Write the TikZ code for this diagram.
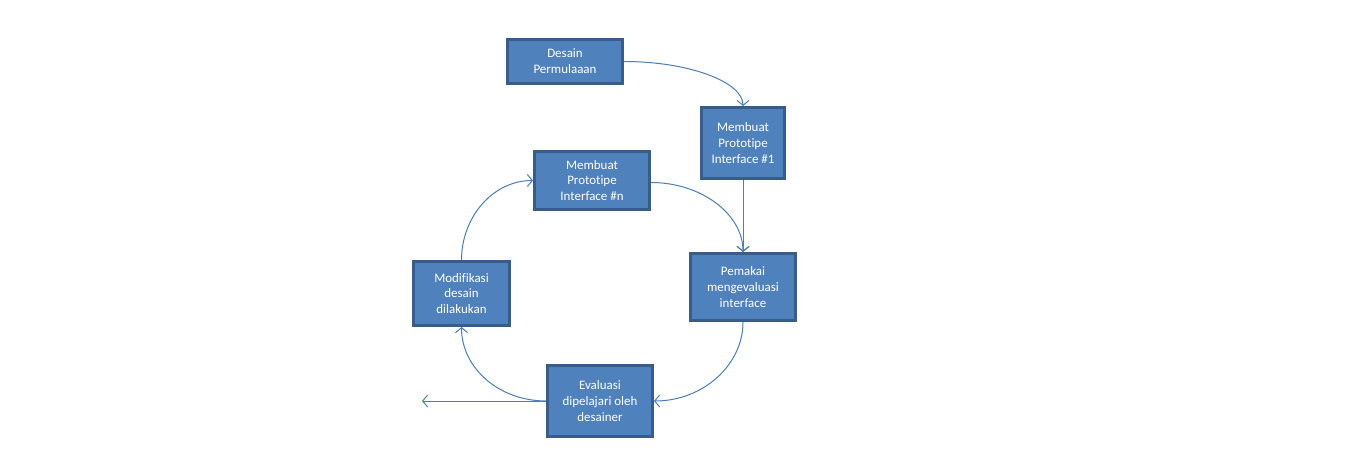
\documentclass[tikz,border=0pt]{standalone}
\usepackage{fontspec}
\setmainfont{Carlito}[Ligatures={NoCommon,NoRequired,NoContextual}]
\usetikzlibrary{arrows.meta}
\definecolor{boxfill}{HTML}{4F81BD}
\definecolor{boxline}{HTML}{385D8A}
\definecolor{conn}{HTML}{4A7EBB}
\newcommand\nolig{\kern0pt{}}
\begin{document}
\begin{tikzpicture}[x=1bp,y=1bp,
  box/.style={draw=boxline, line width=3bp, fill=boxfill, text=white, align=center,
    inner sep=0pt, font=\fontsize{13}{16}\selectfont},
  conn/.style={draw=conn, line width=1bp, -{Straight Barb[length=5bp,width=12bp]}}]
\fill[white] (0,0) rectangle (1366,-464);
\useasboundingbox (0,0) rectangle (1366,-464);
\node[box, minimum width=115bp, minimum height=44bp] (d)  at (565,-61.5) {Desain\\Permulaaan};
\node[box, minimum width=83bp,  minimum height=71bp] (p1) at (743,-143) {Membuat\\Protot\nolig ipe\\Interface \#1};
\node[box, minimum width=115bp, minimum height=58bp] (pn) at (592,-180.5) {Membuat\\Protot\nolig ipe\\Interface \#n};
\node[box, minimum width=105bp, minimum height=67bp] (pe) at (743,-287) {Pemakai\\mengevaluasi\\interface};
\node[box, minimum width=96bp,  minimum height=64bp] (mo) at (461.5,-293.5) {Modif\nolig ikasi\\desain\\dilakukan};
\node[box, minimum width=105bp, minimum height=71bp] (ev) at (600,-401) {Evaluasi\\dipelajari oleh\\desainer};
\coordinate (out) at (422,-401);
\draw[conn] (d.east) .. controls +(65,0) and +(0,24) .. (p1.north);
\draw[conn] (p1.south) -- (pe.north);
\draw[conn] ([yshift=-2bp]pn.east) .. controls +(50,0) and +(0,38) .. (pe.north);
\draw[conn] (pe.south) .. controls +(0,-43) and +(49,0) .. (ev.east);
\draw[conn] (ev.west) .. controls +(-47,0) and +(0,-41) .. (mo.south);
\draw[conn] (ev.west) -- (out);
\draw[conn] (mo.north) .. controls +(0,43) and +(-40,0) .. (pn.west);
\end{tikzpicture}
\end{document}
